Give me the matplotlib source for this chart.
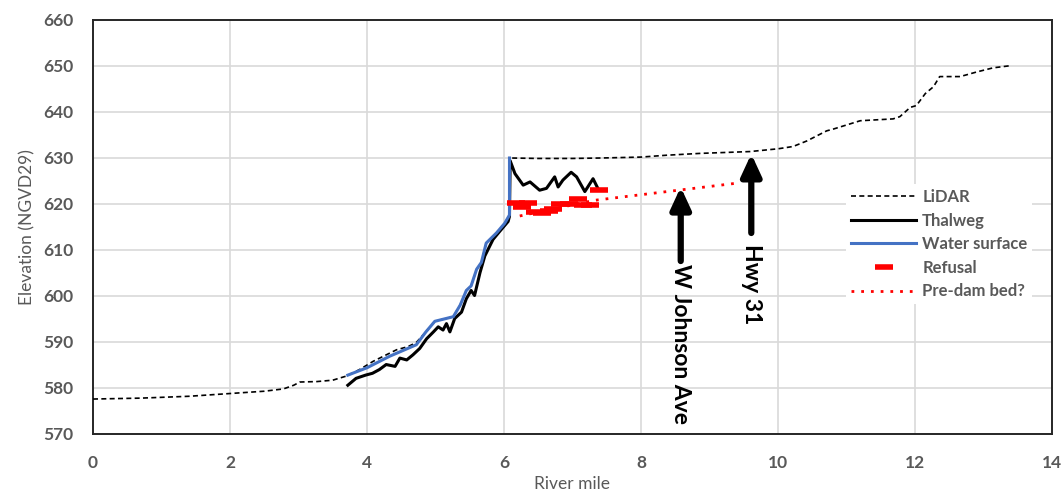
import matplotlib
matplotlib.use("Agg")
import matplotlib.pyplot as plt
from matplotlib.lines import Line2D

plt.rcParams['font.family'] = ['Lato', 'DejaVu Sans']

# ---------------- data ----------------
lidar_x = [0, 0.7, 1.4, 2.0, 2.5, 2.78, 2.93, 3.02, 3.27, 3.5, 3.7, 3.89, 4.09, 4.28, 4.43,
           4.6, 4.72, 4.86, 4.99, 5.26, 5.36, 5.45, 5.52, 5.6, 5.67, 5.74, 5.89, 6.01, 6.08,
           6.09, 6.5, 7.0, 7.42, 8.0, 8.37, 8.86, 9.59, 10.0, 10.22, 10.42, 10.71, 10.81,
           11.2, 11.68, 11.78, 11.93, 12.02, 12.15, 12.27, 12.36, 12.66, 12.9, 13.14, 13.41]
lidar_y = [577.6, 577.8, 578.2, 578.8, 579.3, 579.8, 580.6, 581.3, 581.4, 581.7, 582.6, 584.0,
           585.8, 587.2, 588.3, 589.0, 589.9, 592.2, 594.5, 595.5, 598.0, 601.2, 602.2, 605.8,
           607.3, 611.5, 613.7, 615.8, 617.6, 630.0, 629.9, 629.9, 630.0, 630.2, 630.6, 631.0,
           631.4, 632.0, 632.5, 633.7, 635.9, 636.3, 638.1, 638.5, 639.0, 641.0, 641.4, 644.0,
           645.5, 647.7, 647.7, 648.7, 649.6, 650.1]

thalweg_x = [3.72, 3.84, 3.98, 4.08, 4.18, 4.28, 4.41, 4.48, 4.58, 4.67, 4.77, 4.87, 4.97,
             5.04, 5.11, 5.16, 5.21, 5.28, 5.38, 5.45, 5.52, 5.57, 5.65, 5.72, 5.84, 5.94,
             6.06, 6.08, 6.09, 6.16, 6.28, 6.38, 6.52, 6.62, 6.74, 6.79, 6.86, 6.98, 7.06,
             7.18, 7.30, 7.37]
thalweg_y = [580.6, 582.1, 582.8, 583.2, 584.0, 585.1, 584.7, 586.5, 586.1, 587.2, 588.6,
             590.7, 592.2, 593.3, 592.6, 594.0, 592.2, 595.1, 596.5, 599.4, 601.2, 600.1,
             605.1, 608.7, 612.3, 614.1, 616.2, 617.3, 629.4, 626.6, 624.1, 624.8, 623.0,
             623.4, 625.9, 623.7, 625.2, 626.9, 625.9, 622.7, 625.5, 623.4]

water_x = [3.72, 4.0, 4.33, 4.72, 4.86, 4.99, 5.26, 5.36, 5.45, 5.52, 5.6, 5.67, 5.74, 5.89,
           6.01, 6.08, 6.08]
water_y = [582.8, 584.4, 586.9, 589.4, 592.2, 594.5, 595.5, 598.0, 601.2, 602.2, 605.8, 607.3,
           611.5, 613.7, 615.8, 617.6, 630.0]

refusal_x = [6.18, 6.26, 6.35, 6.45, 6.55, 6.65, 6.72, 6.82, 6.95, 7.08, 7.15, 7.25, 7.38]
refusal_y = [620.2, 619.4, 620.3, 618.2, 618.1, 618.5, 619.0, 620.1, 620.0, 621.0, 619.8,
             619.8, 623.0]

predam_x = [6.23, 7.32, 9.44]
predam_y = [617.4, 620.8, 624.6]

labels = ["LiDAR", "Thalweg", "Water surface", "Refusal", "Pre-dam bed?"]

johnson_x, johnson_tip, johnson_tail = 8.58, 623.7, 607.6
hwy_x, hwy_tip, hwy_tail = 9.61, 630.9, 613.7

x_ticks = [0, 2, 4, 6, 8, 10, 12, 14]
y_ticks = [570, 580, 590, 600, 610, 620, 630, 640, 650, 660]

# ---------------- plot ----------------
fig = plt.figure(figsize=(10.63, 5.0), dpi=100)
ax = fig.add_axes([93/1063, 1-434/500, (1052-93)/1063, (434-20)/500])

gray = '#595959'
ax.set_xlim(0, 14)
ax.set_ylim(570, 660)
ax.set_xticks(x_ticks)
ax.set_yticks(y_ticks)
ax.grid(True, color='#d9d9d9', lw=1.2, zorder=0)
ax.set_axisbelow(True)
for s in ax.spines.values():
    s.set_color('#262626')
    s.set_linewidth(1.4)
ax.tick_params(length=0, labelsize=12.5, labelcolor=gray)
ax.tick_params(axis='y', pad=14)
ax.tick_params(axis='x', pad=15)
for t in ax.get_xticklabels() + ax.get_yticklabels():
    t.set_fontweight('bold')

ax.set_xlabel("River mile", fontsize=12.5, color=gray, labelpad=4)
ax.set_ylabel("Elevation (NGVD29)", fontsize=12.5, color=gray, labelpad=6)

l1, = ax.plot(lidar_x, lidar_y, color='black', lw=1.2, ls=(0, (3, 2)), zorder=3)
l2, = ax.plot(thalweg_x, thalweg_y, color='black', lw=2.2, zorder=4)
l3, = ax.plot(water_x, water_y, color='#4472C4', lw=2.2, zorder=5)
l4, = ax.plot(refusal_x, refusal_y, ls='none', marker='_', ms=13, mew=4,
              color='#ff0000', zorder=6)
l5, = ax.plot(predam_x, predam_y, color='#ff0000', lw=2.0, ls=(0, (1, 2.5)), zorder=3)

ap = dict(arrowstyle='-|>,head_length=1.3,head_width=0.6', lw=4.5, color='black',
          shrinkA=0, shrinkB=0)
ax.annotate('', xy=(johnson_x, johnson_tip), xytext=(johnson_x, johnson_tail),
            arrowprops=ap, zorder=7)
ax.annotate('', xy=(hwy_x, hwy_tip), xytext=(hwy_x, hwy_tail),
            arrowprops=ap, zorder=7)
ax.text(johnson_x, 607.0, "W Johnson Ave", rotation=270, ha='center', va='top',
        fontsize=16.5, fontweight='bold', color='black', zorder=7)
ax.text(hwy_x, 611.2, "Hwy 31", rotation=270, ha='center', va='top',
        fontsize=16.5, fontweight='bold', color='black', zorder=7)

leg = ax.legend([l1, l2, l3, l4, l5], labels, loc='upper left',
                bbox_to_anchor=(838/1063, 1-176/500), bbox_transform=fig.transFigure,
                frameon=True, fancybox=False, framealpha=1, edgecolor='none',
                facecolor='white', fontsize=12, handlelength=3.9, handletextpad=0.35,
                labelspacing=0.45, borderpad=0.3, numpoints=1)
for t in leg.get_texts():
    t.set_color(gray)
    t.set_fontweight('bold')
leg.set_zorder(8)

fig.savefig("out.png", dpi=100)
